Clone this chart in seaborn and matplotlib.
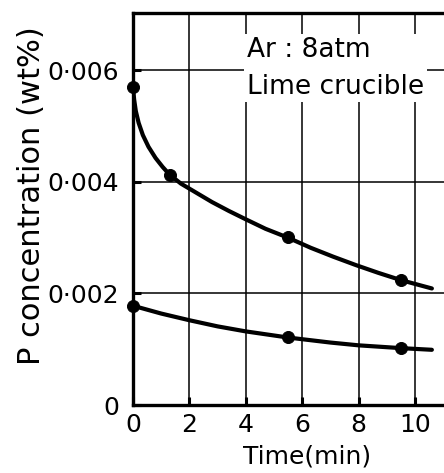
import matplotlib
matplotlib.use("Agg")
from matplotlib import pyplot as plt
from matplotlib.ticker import FuncFormatter
import seaborn as sns
import pandas as pd

# measured points (time in min, P in wt%)
upper_t = [0.0, 1.3, 5.5, 9.5]
upper_p = [0.0057, 0.00413, 0.00301, 0.00224]
lower_t = [0.0, 5.5, 9.5]
lower_p = [0.00178, 0.00122, 0.00102]

# hand-drawn curves
upper_curve_t = [0.0, 0.04, 0.1, 0.2, 0.35, 0.55, 0.8, 1.05, 1.3, 1.7,
                 2.2, 2.8, 3.4, 4.0, 4.7, 5.5, 6.3, 7.1, 7.9, 8.7, 9.5,
                 10.6]
upper_curve_p = [0.0057, 0.00548, 0.00527, 0.00506, 0.00484, 0.00463,
                 0.00443, 0.00427, 0.00413, 0.00397, 0.00382, 0.00364,
                 0.00348, 0.00333, 0.00316, 0.0030, 0.00282, 0.00266,
                 0.00251, 0.00237, 0.00224, 0.00209]
lower_curve_t = [0.0, 0.5, 1.0, 1.5, 2.0, 3.0, 4.0, 5.5, 7.0, 8.0, 9.5,
                 10.6]
lower_curve_p = [0.00178, 0.00171, 0.00164, 0.00158, 0.00152, 0.00141,
                 0.00132, 0.00121, 0.00112, 0.00107, 0.00102, 0.00099]

x_ticks = [0, 2, 4, 6, 8, 10]
y_ticks = [0, 0.002, 0.004, 0.006]

sns.set_style("ticks")
plt.rcParams["font.family"] = ["DejaVu Sans"]
plt.rcParams["text.color"] = "black"
plt.rcParams["axes.labelcolor"] = "black"

fig = plt.figure(figsize=(4.44, 4.73), dpi=100)
ax = fig.add_axes([133 / 444, 68 / 473, 311 / 444, 392 / 473])

curves = pd.concat([
    pd.DataFrame({"t": upper_curve_t, "p": upper_curve_p, "s": "a"}),
    pd.DataFrame({"t": lower_curve_t, "p": lower_curve_p, "s": "b"}),
])
points = pd.concat([
    pd.DataFrame({"t": upper_t, "p": upper_p}),
    pd.DataFrame({"t": lower_t, "p": lower_p}),
])

sns.lineplot(data=curves, x="t", y="p", units="s", estimator=None,
             color="black", lw=3, ax=ax, zorder=4, sort=False)
sns.scatterplot(data=points, x="t", y="p", color="black", s=75,
                edgecolor="black", ax=ax, zorder=5, clip_on=False)

ax.set_xlim(0, 11.03)
ax.set_ylim(0, 0.00703)
ax.set_xticks(x_ticks)
ax.set_yticks(y_ticks)


def fmt(v, pos):
    if v == 0:
        return "0"
    return ("%.3f" % v).replace(".", "\u00b7")


ax.yaxis.set_major_formatter(FuncFormatter(fmt))
ax.grid(True, color="black", lw=1.1)
ax.set_axisbelow(True)

for side in ["left", "bottom", "top"]:
    ax.spines[side].set_linewidth(2.4)
    ax.spines[side].set_color("black")
ax.spines["right"].set_visible(False)

ax.tick_params(axis="both", direction="in", length=6, width=2.2,
               labelsize=18, colors="black")
ax.tick_params(axis="y", pad=10)
ax.tick_params(axis="x", pad=6)

ax.set_xlabel("Time(min)", fontsize=18)
ax.set_ylabel("P concentration (wt%)", fontsize=22)
ax.xaxis.set_label_coords(0.56, -0.1)
ax.yaxis.set_label_coords(-0.28, 0.535)

ax.text(0.365, 0.94, "Ar : 8atm\nLime crucible", transform=ax.transAxes,
        fontsize=19, va="top", ha="left", linespacing=1.55, zorder=3,
        bbox=dict(facecolor="white", edgecolor="none", pad=2))

fig.savefig("out.png", dpi=100)
